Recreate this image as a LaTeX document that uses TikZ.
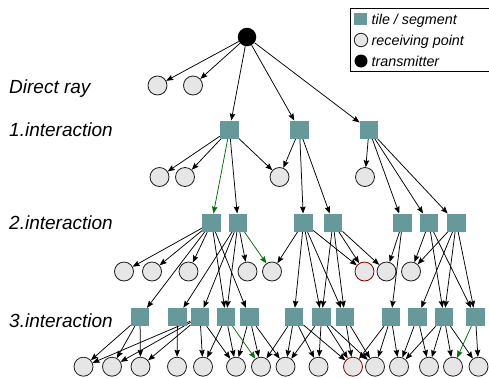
\documentclass[tikz,border=0pt]{standalone}
\usepackage{fontspec}
\setmainfont{Liberation Sans}
\usetikzlibrary{arrows.meta,backgrounds}
\definecolor{tilec}{RGB}{102,153,153}
\definecolor{recc}{RGB}{230,230,230}
\definecolor{recline}{RGB}{30,30,30}
\definecolor{redline}{RGB}{128,0,0}
\definecolor{greenline}{RGB}{0,110,0}
\tikzset{
  tilebox/.style={rectangle,fill=tilec,draw=none,minimum width=18.5pt,minimum height=18pt,inner sep=0pt},
  recpt/.style={circle,fill=recc,draw=recline,line width=0.8pt,minimum size=19pt,inner sep=0pt},
  recred/.style={recpt,draw=redline},
  txpt/.style={circle,fill=black,minimum size=18.5pt,inner sep=0pt},
  arr/.style={-{Stealth[length=7pt,width=5.5pt,inset=1pt]},line width=0.75pt,black},
  garr/.style={arr,greenline},
  lvl/.style={anchor=base west,inner sep=0pt,font=\fontsize{19}{22}\selectfont\itshape},
  legtxt/.style={anchor=base west,inner sep=0pt,font=\fontsize{14.3}{17}\selectfont\itshape}
}
\begin{document}
\begin{tikzpicture}[x=1pt,y=-1pt]
\useasboundingbox (0,0) rectangle (489,378);
% level labels
\node[lvl] (l0) at (9,93) {Direct ray};
\node[lvl] (l1) at (9,136.5) {1.interaction};
\node[lvl] (l2) at (9,229.5) {2.interaction};
\node[lvl] (l3) at (9,327) {3.interaction};
% legend
\node[draw=black,line width=0.8pt,fill=white,minimum width=138.5pt,minimum height=63pt,inner sep=0pt,anchor=north west] (leg) at (350,8) {};
\node[rectangle,fill=tilec,minimum size=12.5pt,inner sep=0pt] (ls) at (360.5,19) {};
\node[circle,fill=recc,draw=recline,line width=0.8pt,minimum size=13.5pt,inner sep=0pt] (lc) at (361,40) {};
\node[circle,fill=black,minimum size=13pt,inner sep=0pt] (lt) at (361,61) {};
\node[legtxt] (lst) at (371.5,24.3) {tile / segment};
\node[legtxt] (lct) at (371.5,45) {receiving point};
\node[legtxt] (ltt) at (371.5,66) {transmitter};
% transmitter
\node[txpt] (TX) at (247,37) {};
% direct ray receivers
\node[recpt] (R0a) at (157.5,85.5) {};
\node[recpt] (R0b) at (193,85.5) {};
% level 1
\node[tilebox] (T1a) at (229.5,129.7) {};
\node[tilebox] (T1b) at (299.5,129.7) {};
\node[tilebox] (T1c) at (369,129.7) {};
\node[recpt] (R1a) at (159.5,177) {};
\node[recpt] (R1b) at (185,177) {};
\node[recpt] (R1c) at (279.5,177) {};
\node[recpt] (R1d) at (365,177) {};
% level 2
\foreach \n/\x in {T2a/211.7,T2b/238,T2c/303.5,T2d/333,T2e/402.5,T2f/429,T2g/456.3}
  \node[tilebox] (\n) at (\x,222.7) {};
\foreach \n/\x in {R2a/124,R2b/152,R2c/188.5,R2d/247.5,R2e/272,R2g/386.5,R2h/411}
  \node[recpt] (\n) at (\x,271.5) {};
\node[recred] (R2f) at (364.5,271.5) {};
% level 3
\foreach \n/\x in {T3a/140,T3b/177.5,T3c/200,T3d/226,T3e/249.5,T3f/294,T3g/321.5,T3h/345,T3i/391,T3j/417.5,T3k/444,T3l/475.5}
  \node[tilebox] (\n) at (\x,317) {};
\foreach \n/\x in {R3a/83.5,R3b/112,R3c/140.5,R3d/177,R3e/203,R3f/236,R3g/261,R3h/285.5,R3i/318.5,R3k/375,R3l/399,R3m/429,R3n/453,R3o/478.5}
  \node[recpt] (\n) at (\x,366.7) {};
\node[recred] (R3j) at (353,366.7) {};
% connectors
\begin{scope}[on background layer]
\foreach \a/\b in {TX/R0a,TX/R0b,TX/T1a,TX/T1b,TX/T1c,
  T1a/R1a,T1a/R1b,T1a/T2b,T1a/R1c,
  T1b/R1c,T1b/T2c,T1b/T2d,
  T1c/R1d,T1c/T2e,T1c/T2f,T1c/T2g,
  T2a/R2a,T2a/R2b,T2a/R2c,T2a/T3a,T2a/T3d,T2a/T3e,
  T2b/T3b,T2b/T3c,T2b/T3d,T2b/R2d,
  T2c/R2e,T2c/T3f,T2c/T3g,T2c/T3h,T2c/R2f,
  T2d/T3g,T2d/T3h,T2d/R2f,T2d/R2g,
  T2e/R2g,T2e/T3i,
  T2f/R2h,T2f/T3k,T2f/T3l,
  T2g/R2h,T2g/T3j,T2g/T3k,T2g/T3l,
  T3a/R3a,T3a/R3b,T3a/R3c,
  T3b/R3d,
  T3c/R3a,T3c/R3b,T3c/R3c,T3c/R3e,T3c/R3f,
  T3d/R3e,T3d/R3f,
  T3e/R3f,T3e/R3g,T3e/R3h,
  T3f/R3g,T3f/R3h,T3f/R3i,T3f/R3j,
  T3g/R3h,T3g/R3i,T3g/R3j,T3g/R3k,
  T3h/R3j,T3h/R3k,
  T3i/R3j,T3i/R3k,T3i/R3l,
  T3j/R3l,T3j/R3m,
  T3k/R3l,T3k/R3m,T3k/R3n,T3k/R3o,
  T3l/R3o}
  \draw[arr] (\a) -- (\b);
\foreach \a/\b in {T1a/T2a,T2b/R2e,T3d/R3g,T3l/R3n}
  \draw[garr] (\a) -- (\b);
\end{scope}
\end{tikzpicture}
\end{document}
